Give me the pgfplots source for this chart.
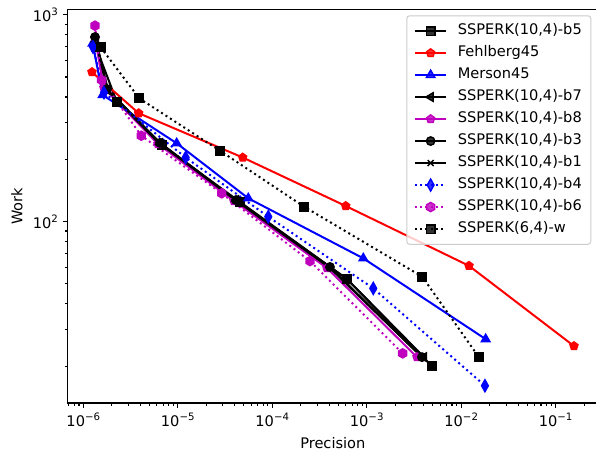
\documentclass[border=0pt]{standalone}
\usepackage{fontspec}
\setmainfont{DejaVu Sans}
\usepackage{pgfplots}
\pgfplotsset{compat=1.18}
\usetikzlibrary{plotmarks}

\definecolor{mplred}{rgb}{1,0,0}
\definecolor{mplblue}{rgb}{0,0,1}
\definecolor{mplmag}{rgb}{0.75,0,0.75}

\pgfdeclareplotmark{hexagon*}{%
  \pgfpathmoveto{\pgfpointpolar{90}{\pgfplotmarksize}}%
  \pgfpathlineto{\pgfpointpolar{150}{\pgfplotmarksize}}%
  \pgfpathlineto{\pgfpointpolar{210}{\pgfplotmarksize}}%
  \pgfpathlineto{\pgfpointpolar{270}{\pgfplotmarksize}}%
  \pgfpathlineto{\pgfpointpolar{330}{\pgfplotmarksize}}%
  \pgfpathlineto{\pgfpointpolar{30}{\pgfplotmarksize}}%
  \pgfpathclose\pgfusepathqfillstroke}

\newcommand{\tl}[1]{10\raisebox{0.42em}{\fontsize{10.2}{10.2}\selectfont #1}}

\begin{document}
\fontsize{14.6}{17.5}\selectfont
\begin{tikzpicture}
\begin{axis}[
  xmode=log, ymode=log,
  scale only axis, width=530.3pt, height=393.7pt,
  xmin=6.84e-7, xmax=0.2805, ymin=13.26, ymax=1062,
  xtick={1e-6,1e-5,1e-4,1e-3,1e-2,1e-1},
  xticklabels={\tl{−6},\tl{−5},\tl{−4},\tl{−3},\tl{−2},\tl{−1}},
  ytick={100,1000},
  yticklabels={\tl{2},\tl{3}},
  minor xtick={7e-7,8e-7,9e-7,2e-6,3e-6,4e-6,5e-6,6e-6,7e-6,8e-6,9e-6,
    2e-5,3e-5,4e-5,5e-5,6e-5,7e-5,8e-5,9e-5,
    2e-4,3e-4,4e-4,5e-4,6e-4,7e-4,8e-4,9e-4,
    2e-3,3e-3,4e-3,5e-3,6e-3,7e-3,8e-3,9e-3,
    2e-2,3e-2,4e-2,5e-2,6e-2,7e-2,8e-2,9e-2,2e-1},
  minor ytick={20,30,40,50,60,70,80,90,200,300,400,500,600,700,800,900},
  tick align=outside,
  major tick length=4.8pt, minor tick length=2.8pt,
  every tick/.style={black, line width=1.1pt},
  axis line style={line width=1.1pt},
  xtick pos=bottom, ytick pos=left,
  xlabel={Precision}, ylabel={Work},
  xlabel style={at={(axis description cs:0.5,-0.1016)}, anchor=center},
  ylabel style={at={(axis description cs:-0.0956,0.5)}, anchor=center},
  legend cell align=left,
  legend image code/.code={%
    \draw[mark repeat=2,mark phase=2,#1] plot coordinates {(0pt,0pt) (15.85pt,0pt) (31.7pt,0pt)};
    \path (40pt,0pt);},
  legend style={at={(axis description cs:1,1)}, anchor=north east,
    xshift=-6.7pt, yshift=-6pt, draw=black!20, line width=1pt,
    rounded corners=2.8pt, fill=white, fill opacity=0.8, text opacity=1,
    inner xsep=7pt, inner ysep=6pt, row sep=3.5pt,
    nodes={inner sep=2pt, text height=11pt, text depth=3.5pt}},
  every axis plot/.append style={line width=2pt},
]
% SSPERK(10,4)-b5
\addplot[black, mark=square*, mark size=4.2pt, mark options={solid, line width=1.4pt}]
  coordinates {(1.363e-6,698) (2.273e-6,378) (6.808e-6,234) (4.557e-5,124.3) (6.18e-4,52.7) (4.906e-3,20.0)};
\addlegendentry{SSPERK(10,4)-b5}
% Fehlberg45
\addplot[mplred, mark=pentagon*, mark size=4.2pt, mark options={solid, line width=1.4pt}]
  coordinates {(1.236e-6,528) (3.858e-6,334) (4.866e-5,204) (5.99e-4,118.9) (0.01209,61.1) (0.1562,25.0)};
\addlegendentry{Fehlberg45}
% Merson45
\addplot[mplblue, mark=triangle*, mark size=4.9pt, mark options={solid, line width=1.4pt}]
  coordinates {(1.257e-6,727) (1.604e-6,409) (9.74e-6,239) (5.577e-5,129.5) (9.20e-4,66.4) (0.01816,27.0)};
\addlegendentry{Merson45}
% SSPERK(10,4)-b7
\addplot[black, mark=triangle*, mark size=4.9pt, mark options={solid, line width=1.4pt, rotate=90}]
  coordinates {(1.363e-6,738) (1.826e-6,432) (6.482e-6,240) (4.132e-5,127) (6.18e-4,52.7) (4.036e-3,22.1)};
\addlegendentry{SSPERK(10,4)-b7}
% SSPERK(10,4)-b8
\addplot[mplmag, mark=pentagon*, mark size=4.2pt, mark options={solid, line width=1.4pt}]
  coordinates {(1.330e-6,772) (1.656e-6,442) (6.174e-6,237) (3.936e-5,125.6) (3.797e-4,59.6) (3.404e-3,22.1)};
\addlegendentry{SSPERK(10,4)-b8}
% SSPERK(10,4)-b3
\addplot[black, mark=*, mark size=4.2pt, mark options={solid, line width=1.4pt}]
  coordinates {(1.330e-6,780) (1.782e-6,437) (6.482e-6,240) (4.132e-5,127) (4.085e-4,60.3) (3.845e-3,22.1)};
\addlegendentry{SSPERK(10,4)-b3}
% SSPERK(10,4)-b1
\addplot[black, mark=x, mark size=4.2pt, mark options={solid, line width=1.4pt}]
  coordinates {(1.363e-6,755) (1.826e-6,428) (6.174e-6,242) (3.936e-5,128.5) (4.085e-4,59.6) (3.845e-3,22.1)};
\addlegendentry{SSPERK(10,4)-b1}
% SSPERK(10,4)-b4
\addplot[mplblue, dash pattern=on 2pt off 3.3pt, mark=diamond*, mark size=6pt, mark options={solid, line width=1.4pt, xscale=0.75}]
  coordinates {(1.267e-6,698) (1.656e-6,420) (1.213e-5,204) (9.08e-5,105.5) (1.173e-3,47.5) (0.01785,16.07)};
\addlegendentry{SSPERK(10,4)-b4}
% SSPERK(10,4)-b6
\addplot[mplmag, dash pattern=on 2pt off 3.3pt, mark=hexagon*, mark size=4.6pt, mark options={solid, line width=1.4pt}]
  coordinates {(1.330e-6,885) (1.566e-6,483) (4.110e-6,260) (2.917e-5,136.9) (2.509e-4,64.4) (2.402e-3,23.05)};
\addlegendentry{SSPERK(10,4)-b6}
% SSPERK(6,4)-w
\addplot[black, dash pattern=on 2pt off 3.3pt, mark=square*, mark size=4.2pt, mark options={solid, line width=1.4pt}]
  coordinates {(1.528e-6,696) (3.914e-6,394) (2.798e-5,220) (2.168e-4,118.0) (3.873e-3,54.1) (0.01543,22.05)};
\addlegendentry{SSPERK(6,4)-w}
\end{axis}
\pgfresetboundingbox
\path[use as bounding box] ([xshift=-67.7pt,yshift=-53pt]current axis.south west) rectangle ([xshift=-2pt,yshift=9.3pt]current axis.north east);
\end{tikzpicture}
\end{document}
